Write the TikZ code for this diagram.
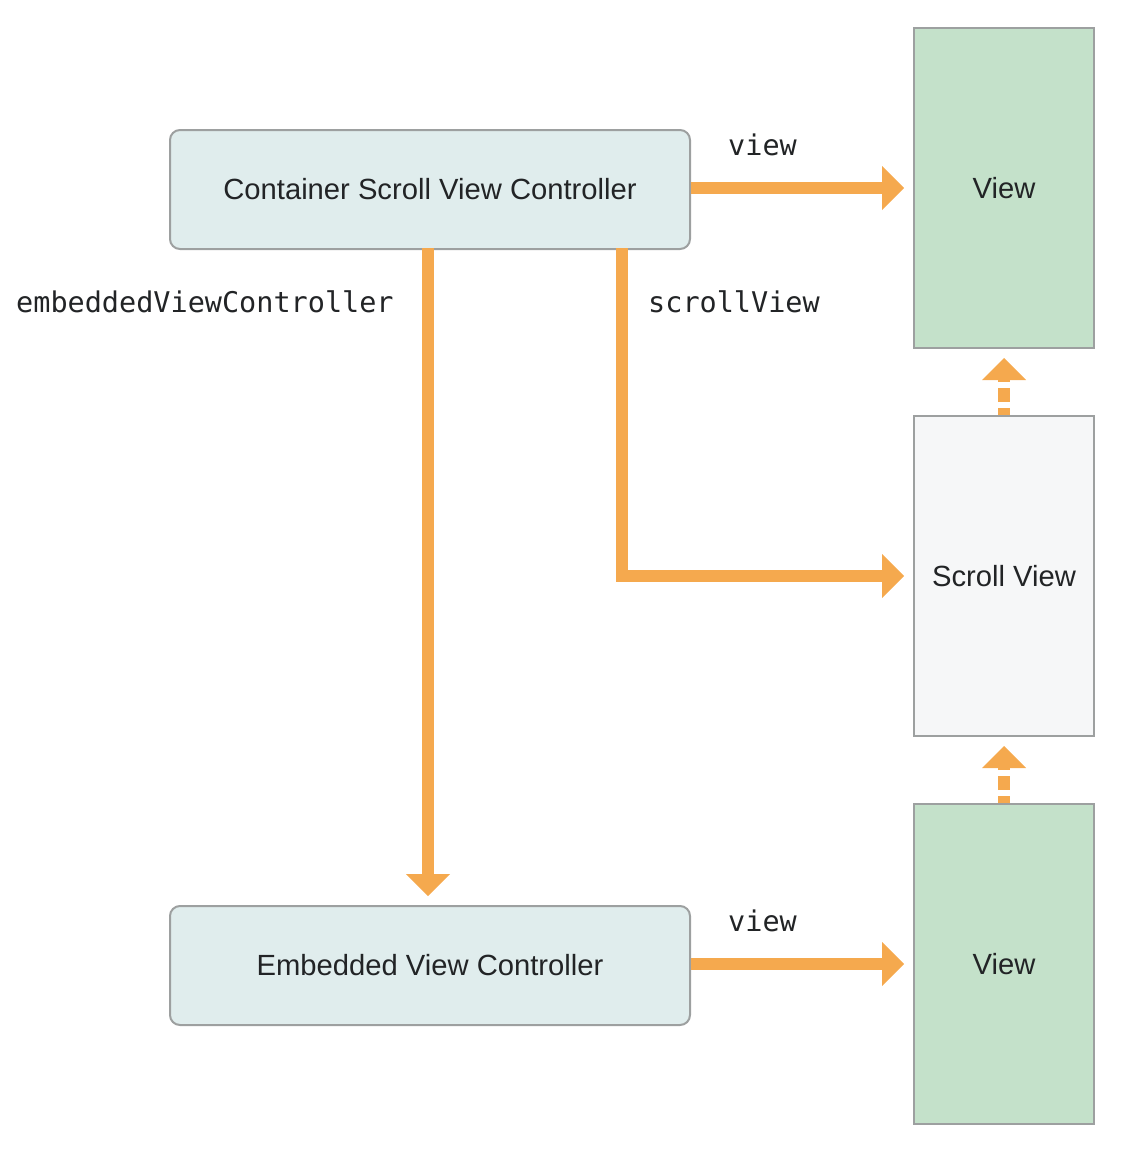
\documentclass[tikz,border=0pt]{standalone}
\usepackage{fontspec}
\setmainfont{Liberation Sans}
\newfontfamily\codefont{DejaVu Sans Mono}
\usetikzlibrary{arrows.meta}
\definecolor{arrowc}{HTML}{F5A94E}
\definecolor{viewc}{HTML}{C4E1CA}
\definecolor{ctrlc}{HTML}{E0EDED}
\definecolor{scrollc}{HTML}{F6F7F8}
\definecolor{borderc}{HTML}{9DA0A0}
\definecolor{textc}{HTML}{222426}
\tikzset{
  ctrlbox/.style={draw=borderc, line width=2pt, fill=ctrlc, rounded corners=10pt,
    minimum width=520pt, minimum height=119pt, inner sep=0pt, anchor=north west,
    text=textc, font=\fontsize{29.2}{34}\selectfont},
  viewbox/.style={draw=borderc, line width=2pt, fill=viewc,
    minimum width=180pt, minimum height=320pt, inner sep=0pt, anchor=north west,
    text=textc, font=\fontsize{29.2}{34}\selectfont},
  scrollbox/.style={viewbox, fill=scrollc},
  codelabel/.style={anchor=base west, inner sep=0pt, text=textc,
    font=\codefont\fontsize{28.5}{34}\selectfont},
  link/.style={draw=arrowc, line width=12pt, line join=miter,
    -{Triangle[length=22pt,width=44pt,line width=0pt]}, shorten >=9pt},
  sublink/.style={link, dash pattern=on 14pt off 6pt, dash phase=7pt},
}
\begin{document}
\begin{tikzpicture}[x=1pt,y=-1pt]
\useasboundingbox (0,0) rectangle (1128,1156);
\node[ctrlbox] (cont) at (169,129) {Container Scroll View Controller};
\node[ctrlbox] (emb) at (169,905) {Embedded View Controller};
\node[viewbox] (view1) at (913,27) {View};
\node[scrollbox] (scroll) at (913,415) {Scroll View};
\node[viewbox] (view2) at (913,803) {View};
\node[codelabel] (l1) at (728,155) {view};
\node[codelabel] (l2) at (648,312) {scrollView};
\node[codelabel] (l3) at (16,312) {embeddedViewController};
\node[codelabel] (l4) at (728,931) {view};
\coordinate (cv) at (428,248);
\coordinate (cs) at (622,248);
\draw[link] (cont.east |- view1.west) -- (view1.west);
\draw[link] (cs) |- (scroll.west);
\draw[link] (cv) -- (cv |- emb.north);
\draw[link] (emb.east |- view2.west) -- (view2.west);
\draw[sublink] (scroll.north) -- (view1.south);
\draw[sublink] (view2.north) -- (scroll.south);
\end{tikzpicture}
\end{document}
